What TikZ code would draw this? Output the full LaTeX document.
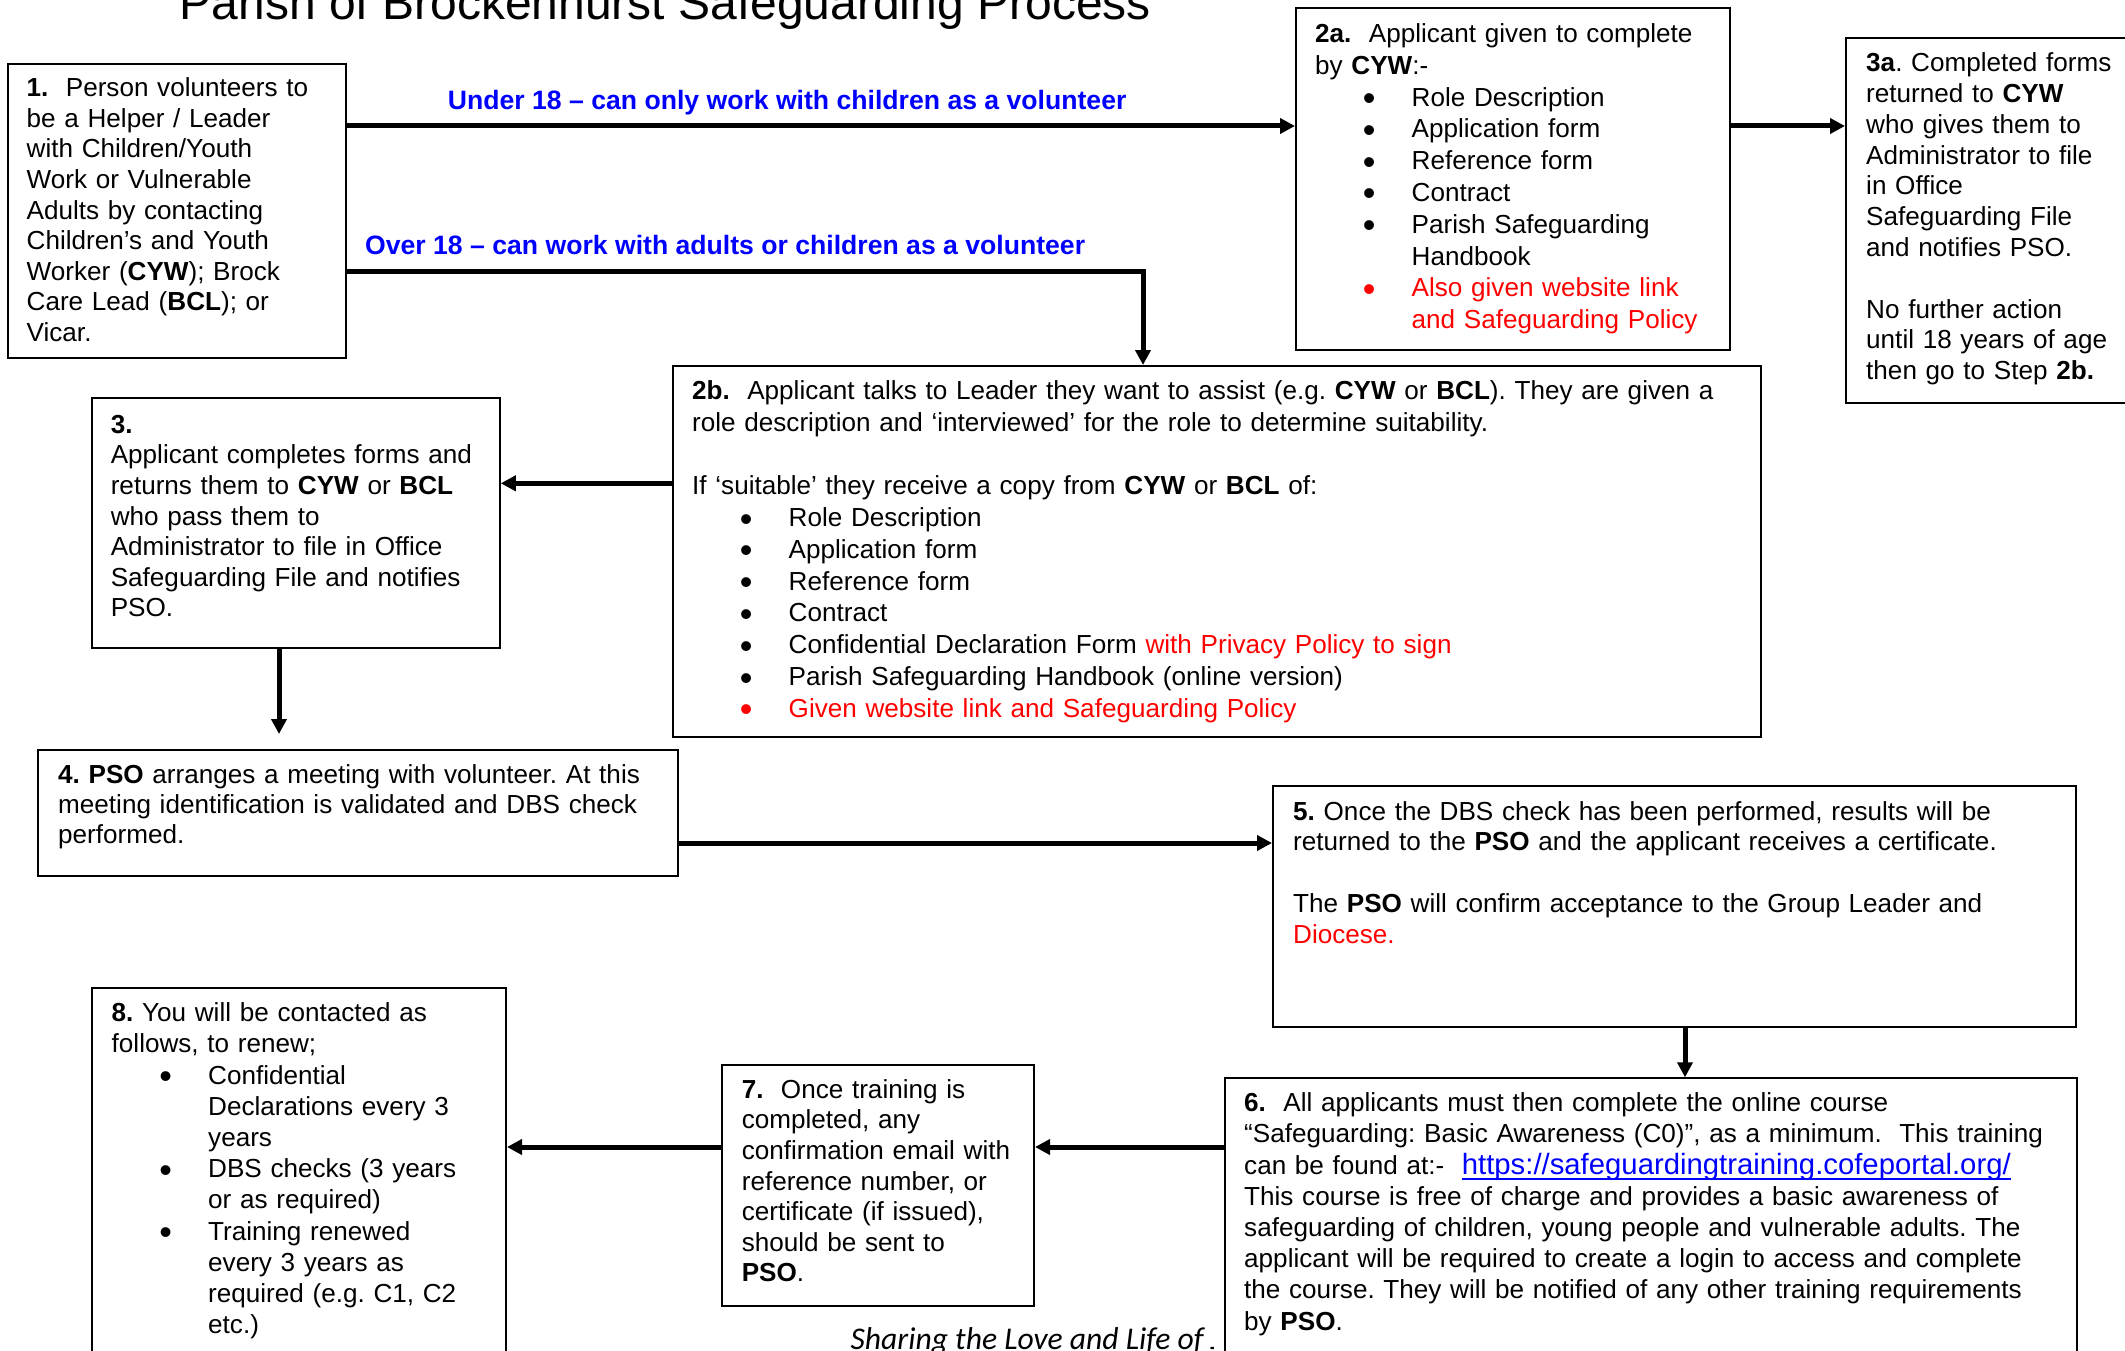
\documentclass[tikz,border=0pt]{standalone}
\usepackage{fontspec}
\setmainfont{Liberation Sans}
\newfontfamily\footfont{Carlito}
\usetikzlibrary{arrows.meta}
\frenchspacing
\newcommand\bfont[1]{\fontsize{26.1pt}{#1pt}\selectfont}
\newcommand\bulx{\hspace*{47.7pt}\makebox[48.8pt][l]{\raisebox{-4.5pt}{\fontsize{36pt}{36pt}\selectfont •}}}
\newcommand\bcont{\hspace*{96.5pt}}
\newcommand\ulink[1]{\setbox0=\hbox{#1}\rlap{\rule[-5.5pt]{\wd0}{1.7pt}}\box0}
\tikzset{
  box/.style={draw=black, line width=2pt, fill=white, inner sep=0pt, anchor=north west},
  txt/.style={anchor=base west, inner sep=0pt, align=left},
  arr/.style={line width=5pt, line join=miter, -{Triangle[length=15pt,width=15pt]}},
  lbl/.style={anchor=base west, inner sep=0pt, text=blue, font=\bfseries\fontsize{26.6pt}{30pt}\selectfont},
}
\begin{document}
\begin{tikzpicture}[x=1pt,y=-1pt]
\clip (0,0) rectangle (2125,1351);
\fill[white] (0,0) rectangle (2125,1351);

% title
\node[anchor=base west, inner sep=0pt, font=\fontsize{48pt}{50pt}\selectfont] (title) at (179.5,20) {Parish of Brockenhurst Safeguarding Process};

% footer (partly hidden by box 6)
\begin{scope}
\clip (800,1200) rectangle (1213,1360);
\node[anchor=base west, inner sep=0pt, font={\fontsize{31.6pt}{32pt}\selectfont\footfont\itshape}] (foot) at (850.5,1349) {Sharing the Love and Life of J};
\end{scope}

% boxes
\node[box, minimum width=338.5pt, minimum height=294pt] (b1) at (6.5,62.7) {};
\node[box, minimum width=434pt, minimum height=341.7pt] (b2a) at (1295,7.3) {};
\node[box, minimum width=295pt, minimum height=364.7pt] (b3a) at (1845,37.3) {};
\node[box, minimum width=1088.5pt, minimum height=370.7pt] (b2b) at (671.5,365) {};
\node[box, minimum width=408.2pt, minimum height=250pt] (b3) at (90.6,397.3) {};
\node[box, minimum width=639.6pt, minimum height=126pt] (b4) at (37,749) {};
\node[box, minimum width=803.4pt, minimum height=241pt] (b5) at (1272,785) {};
\node[box, minimum width=852.4pt, minimum height=292.7pt] (b6) at (1223.6,1077.3) {};
\node[box, minimum width=311.7pt, minimum height=240.7pt] (b7) at (721.3,1064.3) {};
\node[box, minimum width=413.7pt, minimum height=382.7pt] (b8) at (91.3,987.3) {};

% texts
\node[txt, text width=315pt, font=\bfont{30.6}] (t1) at (26.5,96.7) {%
\textbf{1.}~ Person volunteers to\\
be a Helper / Leader\\
with Children/Youth\\
Work or Vulnerable\\
Adults by contacting\\
Children’s and Youth\\
Worker (\textbf{CYW}); Brock\\
Care Lead (\textbf{BCL}); or\\
Vicar.};

\node[txt, text width=405pt, font=\bfont{31.8}] (t2a) at (1315,42.5) {%
\textbf{2a.}~ Applicant given to complete\\
by \textbf{CYW}:-\\
\bulx Role Description\\
\bulx Application form\\
\bulx Reference form\\
\bulx Contract\\
\bulx Parish Safeguarding\\
\bcont Handbook\\
{\color{red}\bulx Also given website link}\\
{\color{red}\bcont and Safeguarding Policy}};

\node[txt, text width=255pt, font=\bfont{30.8}] (t3a) at (1866,71.7) {%
\textbf{3a}. Completed forms\\
returned to \textbf{CYW}\\
who gives them to\\
Administrator to file\\
in Office\\
Safeguarding File\\
and notifies PSO.\\[30.8pt]
No further action\\
until 18 years of age\\
then go to Step \textbf{2b.}};

\node[txt, text width=1060pt, font=\bfont{31.8}] (t2b) at (692,399.3) {%
\textbf{2b.}~ Applicant talks to Leader they want to assist (e.g. \textbf{CYW} or \textbf{BCL}). They are given a\\
role description and ‘interviewed’ for the role to determine suitability.\\[31.8pt]
If ‘suitable’ they receive a copy from \textbf{CYW} or \textbf{BCL} of:\\
\bulx Role Description\\
\bulx Application form\\
\bulx Reference form\\
\bulx Contract\\
\bulx Confidential Declaration Form {\color{red}with Privacy Policy to sign}\\
\bulx Parish Safeguarding Handbook (online version)\\
{\color{red}\bulx Given website link and Safeguarding Policy}};

\node[txt, text width=385pt, font=\bfont{30.6}] (t3) at (110.6,433.3) {%
\textbf{3.}\\
Applicant completes forms and\\
returns them to \textbf{CYW} or \textbf{BCL}\\
who pass them to\\
Administrator to file in Office\\
Safeguarding File and notifies\\
PSO.};

\node[txt, text width=615pt, font=\bfont{30.2}] (t4) at (58,783.3) {%
\textbf{4. PSO} arranges a meeting with volunteer. At this\\
meeting identification is validated and DBS check\\
performed.};

\node[txt, text width=780pt, font=\bfont{30.8}] (t5) at (1293,820) {%
\textbf{5.} Once the DBS check has been performed, results will be\\
returned to the \textbf{PSO} and the applicant receives a certificate.\\[30.8pt]
The \textbf{PSO} will confirm acceptance to the Group Leader and\\
{\color{red}Diocese.}};

\node[txt, text width=828pt, font=\bfont{31.2}] (t6) at (1244,1111.7) {%
\textbf{6.}~ All applicants must then complete the online course\\
“Safeguarding: Basic Awareness (C0)”, as a minimum.~ This training\\
can be found at:-~ {\color{blue}\fontsize{29.3pt}{31.2pt}\selectfont\ulink{https://safeguardingtraining.cofeportal.org/}}\\
This course is free of charge and provides a basic awareness of\\
safeguarding of children, young people and vulnerable adults. The\\
applicant will be required to create a login to access and complete\\
the course. They will be notified of any other training requirements\\
by \textbf{PSO}.};

\node[txt, text width=288pt, font=\bfont{30.6}] (t7) at (741.6,1098.3) {%
\textbf{7.}~ Once training is\\
completed, any\\
confirmation email with\\
reference number, or\\
certificate (if issued),\\
should be sent to\\
\textbf{PSO}.};

\node[txt, text width=390pt, font=\bfont{31.2}] (t8) at (111.5,1021.7) {%
\textbf{8.} You will be contacted as\\
follows, to renew;\\
\bulx Confidential\\
\bcont Declarations every 3\\
\bcont years\\
\bulx DBS checks (3 years\\
\bcont or as required)\\
\bulx Training renewed\\
\bcont every 3 years as\\
\bcont required (e.g. C1, C2\\
\bcont etc.)};

% connector labels
\node[lbl] (lu18) at (447.7,110) {Under 18 – can only work with children as a volunteer};
\node[lbl] (lo18) at (365,254) {Over 18 – can work with adults or children as a volunteer};

% helper coordinates
\coordinate (u18) at (800,126);
\coordinate (o18) at (1143,271);
\coordinate (c23) at (580,483.3);
\coordinate (c34) at (279,734);
\coordinate (c45) at (1000,843);
\coordinate (c56) at (1685,1050);
\coordinate (c67) at (870,1147);

% connectors
\draw[arr] (b1.east |- u18) -- (b2a.west |- u18);
\draw[arr] (b2a.east |- u18) -- (b3a.west |- u18);
\draw[arr] (b1.east |- o18) -- (o18) -- (o18 |- b2b.north);
\draw[arr] (b2b.west |- c23) -- (b3.east |- c23);
\draw[arr] (b3.south -| c34) -- (c34);
\draw[arr] (b4.east |- c45) -- (b5.west |- c45);
\draw[arr] (b5.south -| c56) -- (b6.north -| c56);
\draw[arr] (b6.west |- c67) -- (b7.east |- c67);
\draw[arr] (b7.west |- c67) -- (b8.east |- c67);
\end{tikzpicture}
\end{document}
